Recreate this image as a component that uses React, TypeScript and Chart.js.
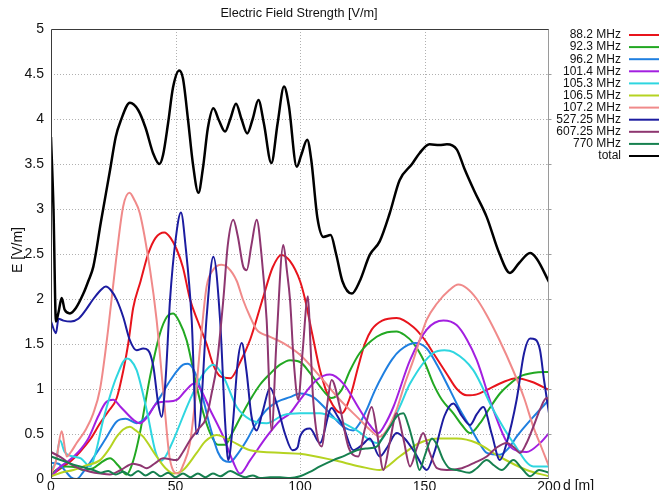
import React, { useEffect, useRef } from "react";
import { Chart, registerables } from "chart.js";

Chart.register(...registerables);

type P = [number, number];

const titleText = "Electric Field Strength [V/m]";
const yAxisLabel = "E [V/m]";
const xAxisLabel = "d [m]";

const seriesNames = [
  "88.2 MHz",
  "92.3 MHz",
  "96.2 MHz",
  "101.4 MHz",
  "105.3 MHz",
  "106.5 MHz",
  "107.2 MHz",
  "527.25 MHz",
  "607.25 MHz",
  "770 MHz",
  "total",
];

const seriesColors = [
  "#e8141c",
  "#22a822",
  "#1f7fe0",
  "#a31fe0",
  "#2ed6e0",
  "#b5d321",
  "#f08a8a",
  "#1c1ca0",
  "#8e3670",
  "#16804f",
  "#000000",
];

const f882: P[] = [[0,0.03],[2,0.08],[5,0.14],[8,0.2],[11.6,0.3],[16,0.45],[19.7,0.62],[23,0.75],[26.4,0.9],[29,1.2],[31,1.5],[33,1.9],[36,2.2],[39,2.5],[42,2.68],[45.5,2.74],[48,2.68],[50.5,2.55],[53,2.35],[55.8,2.0],[59,1.75],[62.5,1.5],[65,1.28],[68,1.14],[72,1.12],[76,1.3],[80,1.55],[85,2.0],[89,2.35],[92.5,2.49],[96,2.42],[100,2.2],[102,2.0],[105,1.6],[108,1.21],[112,0.88],[116.7,0.73],[120,0.9],[123.4,1.25],[126,1.5],[128.8,1.66],[133,1.76],[138.8,1.79],[145.5,1.69],[150,1.55],[153.5,1.4],[158.9,1.17],[163,1.0],[167,0.93],[171,0.94],[175,0.99],[181,1.07],[187,1.12],[193,1.08],[200,0.99]];

const f923: P[] = [[0,0.05],[2,0.1],[6,0.14],[10,0.13],[13,0.1],[17,0.12],[20,0.18],[23.7,0.23],[27,0.15],[30.4,0.05],[33,0.2],[35.7,0.51],[39.8,1.14],[43.8,1.62],[46.5,1.8],[49.1,1.84],[51.5,1.75],[54.5,1.54],[58.5,1.03],[61,0.75],[63.9,0.51],[67,0.38],[70,0.38],[72,0.47],[76,0.68],[80,0.88],[84,1.05],[88,1.17],[92,1.27],[96,1.32],[100,1.3],[104,1.18],[108,1.03],[112.7,0.9],[116.7,0.99],[120,1.2],[124,1.4],[130.8,1.58],[135,1.63],[138.8,1.64],[142,1.6],[145.5,1.51],[150,1.3],[153.5,1.06],[157,0.88],[161.6,0.73],[165,0.6],[168.3,0.51],[172.3,0.62],[176,0.78],[180.3,0.95],[184,1.05],[188.4,1.14],[194,1.18],[200,1.19]];

const f962: P[] = [[0,0.18],[3,0.17],[6,0.08],[8,0.02],[10.3,0.0],[13,0.08],[18.3,0.29],[22,0.45],[26.4,0.64],[30,0.67],[34.4,0.62],[38,0.68],[43.8,0.91],[48,1.1],[53.1,1.27],[55,1.28],[58.5,1.14],[61,0.9],[63.9,0.58],[67,0.3],[69.2,0.21],[71.9,0.19],[75,0.28],[78.6,0.43],[82,0.6],[86.6,0.77],[91,0.86],[96,0.91],[100,0.95],[105.3,0.91],[110.7,0.77],[117.4,0.58],[121.4,0.54],[124,0.62],[126.8,0.77],[130,0.98],[133.5,1.17],[137,1.33],[140.2,1.43],[146.2,1.51],[150.9,1.45],[155,1.27],[160.2,0.99],[164,0.78],[168.3,0.58],[172,0.4],[175,0.29],[180.3,0.27],[184,0.35],[187,0.47],[193.7,0.69],[200,0.88]];

const f1014: P[] = [[0,0.02],[3,0.12],[7,0.2],[11,0.3],[15,0.45],[19,0.7],[22,0.85],[25,0.88],[28,0.8],[33,0.66],[35.7,0.62],[39,0.7],[42.4,0.84],[46,0.86],[50.5,0.88],[54,0.98],[57.5,1.06],[60,1.0],[63.9,0.77],[69.2,0.47],[73,0.2],[75.9,0.06],[80,0.21],[86.6,0.47],[92,0.65],[96,0.73],[100,0.88],[106.7,1.1],[112,1.16],[117.4,1.06],[124,0.77],[128,0.6],[131.4,0.51],[134,0.6],[137.5,0.8],[144.2,1.32],[150.9,1.66],[157.6,1.76],[162.9,1.71],[167,1.55],[171,1.32],[177.6,0.77],[184.3,0.36],[191,0.3],[196.4,0.4],[200,0.51]];

const f1053: P[] = [[0,0.1],[2,0.2],[3.6,0.43],[5.5,0.3],[9,0.25],[12,0.23],[15.7,0.14],[18,0.3],[21,0.66],[24,0.95],[26.4,1.14],[30.4,1.34],[32,1.32],[34.4,1.21],[38.4,0.77],[42,0.3],[44,0.2],[46,0.25],[49.1,0.43],[55.8,0.88],[61.2,1.17],[65.2,1.27],[69.2,1.14],[74.6,0.8],[80,0.66],[86.6,0.62],[93.3,0.71],[100,0.73],[108,0.73],[114.7,0.66],[122.8,0.54],[130.8,0.4],[136.1,0.58],[140,0.8],[144.2,1.06],[153.5,1.4],[158,1.43],[161.6,1.41],[169.6,1.21],[177.6,0.77],[185.7,0.4],[193.7,0.14],[200,0.14]];

const f1065: P[] = [[0,0.03],[4,0.07],[9,0.1],[14,0.15],[19.7,0.21],[23,0.32],[26.4,0.47],[29,0.55],[31.7,0.58],[34,0.54],[37,0.47],[42.4,0.25],[46,0.12],[49.1,0.06],[53.1,0.1],[58.5,0.29],[62,0.42],[66.5,0.49],[71.9,0.43],[80,0.32],[93.3,0.29],[100,0.28],[113.4,0.21],[124,0.14],[132,0.1],[140,0.25],[148,0.4],[156,0.45],[163,0.45],[171,0.4],[180,0.25],[191,0.1],[200,0.03]];

const f1072: P[] = [[0,0.05],[2,0.2],[4.3,0.53],[6.3,0.25],[8,0.3],[10.3,0.4],[14,0.55],[17,0.73],[19.7,1.0],[22.9,1.65],[26.4,2.5],[29,3.03],[31.5,3.18],[33.5,3.1],[35.7,2.95],[39.8,2.32],[42.4,1.77],[45,1.0],[47.8,0.21],[51.1,0.06],[53,0.15],[55.8,0.4],[58,0.9],[60,1.5],[62.5,2.14],[65,2.32],[68.5,2.38],[71,2.35],[74.6,2.2],[77,2.0],[80,1.8],[82.6,1.66],[88,1.58],[93.3,1.51],[100,1.38],[108,1.14],[116,0.88],[124,0.66],[128,0.55],[132,0.47],[135,0.55],[138.8,0.77],[142,1.05],[145.5,1.32],[150.9,1.77],[155,1.95],[160,2.1],[163.6,2.16],[167,2.12],[171,2.0],[175,1.82],[180,1.55],[185.7,1.2],[190,0.9],[193.7,0.58],[197,0.35],[200,0.14]];

const f52725: P[] = [[0,1.75],[2,1.62],[3,1.78],[5,1.76],[8,1.75],[11,1.78],[14,1.88],[17,2.0],[20,2.1],[22,2.14],[24,2.1],[26.4,1.99],[29,1.8],[31.7,1.54],[34.4,1.43],[37,1.45],[39,1.43],[41.1,1.25],[43,0.85],[44.4,0.69],[46,1.1],[47.8,1.99],[50,2.65],[52.2,2.96],[54,2.6],[56.5,1.77],[58.5,0.5],[60,0.7],[62.5,1.8],[65.2,2.47],[67.9,1.77],[70,0.6],[71.2,0.21],[73,0.6],[75,1.3],[76.6,1.51],[78.5,1.2],[80.5,0.7],[82.6,0.54],[85,0.75],[88,1.01],[91,0.8],[94,0.5],[97,0.32],[99,0.35],[100,0.47],[104,0.56],[108,0.4],[112.7,0.79],[115,0.7],[117.4,0.58],[121.4,0.32],[125,0.38],[128,0.45],[132,0.25],[135,0.35],[138.8,0.51],[142,0.45],[146,0.3],[150.9,0.1],[154,0.3],[158,0.7],[161.6,0.84],[165,0.7],[168.3,0.6],[171,0.72],[173.6,0.8],[177,0.5],[180.3,0.21],[183,0.4],[187,0.88],[190,1.4],[192.4,1.56],[194.5,1.55],[196.4,1.43],[198,1.1],[200,0.73]];

const f60725: P[] = [[0,0.3],[4,0.24],[7.6,0.17],[11,0.12],[15.7,0.08],[20,0.06],[23.7,0.05],[28,0.1],[33,0.17],[36,0.15],[38.4,0.12],[42,0.18],[45,0.23],[50.5,0.21],[53,0.3],[55.8,0.43],[59,0.55],[62.5,0.69],[64.5,0.95],[66.5,1.25],[69.2,1.99],[71,2.6],[73.2,2.88],[75,2.7],[77.2,2.36],[78.6,2.32],[80.5,2.6],[82.6,2.88],[84.5,2.5],[86.6,1.77],[88.6,0.54],[90.5,1.5],[93.3,2.6],[94.8,2.3],[96,1.99],[97.5,1.3],[99.3,0.88],[101,1.4],[103.2,2.03],[104.2,1.5],[105.3,0.88],[108.7,0.36],[110.8,0.8],[112.7,1.1],[116,0.8],[119.4,0.36],[123.4,0.25],[126,0.55],[128.8,0.8],[131,0.5],[133.5,0.1],[136,0.4],[138.8,0.73],[141.5,0.45],[144.2,0.14],[147,0.35],[149.5,0.51],[152,0.3],[155,0.12],[158.9,0.1],[165,0.12],[170,0.18],[175,0.25],[179,0.35],[183,0.4],[186,0.35],[188.4,0.29],[191,0.4],[193.7,0.58],[196.5,0.78],[199,0.9],[200,0.88]];

const f770: P[] = [[0,0.25],[3,0.22],[6,0.19],[9,0.16],[13,0.13],[17,0.1],[20,0.07],[23,0.09],[26,0.05],[29,0.08],[32,0.04],[35,0.09],[38,0.04],[41,0.08],[44,0.03],[47,0.07],[50,0.02],[53,0.06],[56,0.02],[59,0.06],[62,0.02],[65,0.06],[68,0.03],[72,0.09],[75,0.05],[78,0.02],[81,0.04],[84,0.01],[88,0.02],[92,0.02],[96,0.01],[100,0.03],[104,0.08],[108,0.14],[113.4,0.21],[118,0.26],[122.8,0.32],[127,0.34],[130.8,0.36],[133,0.45],[136.1,0.58],[139,0.7],[141.5,0.73],[143.5,0.6],[145.5,0.4],[148,0.1],[150,0.25],[153,0.45],[155,0.38],[157.6,0.21],[160,0.12],[163,0.1],[168,0.07],[171,0.12],[175,0.21],[178,0.15],[181,0.1],[185.7,0.21],[189,0.12],[192.4,0.03],[196,0.1],[200,0.07]];

const fTotal: P[] = [[0,3.8],[1,3.0],[2,1.75],[3,1.85],[4.3,2.01],[5.5,1.88],[7.6,1.84],[10,1.9],[13,2.06],[15,2.2],[17,2.36],[20,2.85],[23.7,3.43],[26,3.8],[28,3.98],[31.7,4.18],[35,4.1],[38,3.9],[41,3.62],[43.5,3.5],[45,3.6],[47,3.95],[49,4.35],[51.5,4.54],[53,4.45],[55,4.0],[57,3.5],[59.2,3.18],[61,3.45],[63,3.9],[65.2,4.12],[67.5,3.98],[69.9,3.86],[72,4.0],[74.3,4.17],[76.5,4.0],[78.8,3.84],[81,4.0],[83.3,4.21],[85.5,3.95],[88.5,3.51],[91,3.95],[93.6,4.36],[95.5,4.15],[98.7,3.47],[100.5,3.6],[102.9,3.77],[104.5,3.55],[107,2.9],[109.4,2.69],[112.3,2.71],[114.5,2.5],[117,2.2],[120.8,2.06],[124,2.2],[128,2.49],[132,2.64],[136,2.95],[140,3.32],[145,3.5],[148,3.62],[152,3.72],[156,3.71],[159,3.72],[163,3.66],[166,3.45],[170,3.2],[175,2.91],[180,2.51],[184.3,2.29],[188,2.4],[192.4,2.51],[195,2.45],[200,2.19]];

const seriesData: P[][] = [f882, f923, f962, f1014, f1053, f1065, f1072, f52725, f60725, f770, fTotal];

const xTickValues = [0, 50, 100, 150, 200];
const yTickValues = [0, 0.5, 1, 1.5, 2, 2.5, 3, 3.5, 4, 4.5, 5];

const FONT = '"Liberation Sans", Arial, Helvetica, sans-serif';

const decorPlugin = {
  id: "decor",
  beforeDatasetsDraw(chart: any) {
    const { ctx, chartArea, scales } = chart;
    const { left, right, top, bottom } = chartArea;
    ctx.save();
    ctx.strokeStyle = "#b0b0b0";
    ctx.lineWidth = 1;
    ctx.setLineDash([1, 2]);
    for (const v of yTickValues) {
      if (v <= 0 || v >= 5) continue;
      const py = Math.round(scales.y.getPixelForValue(v)) + 0.5;
      ctx.beginPath();
      ctx.moveTo(left, py);
      ctx.lineTo(right, py);
      ctx.stroke();
    }
    for (const v of xTickValues) {
      if (v <= 0 || v >= 200) continue;
      const px = Math.round(scales.x.getPixelForValue(v)) + 0.5;
      ctx.beginPath();
      ctx.moveTo(px, top);
      ctx.lineTo(px, bottom);
      ctx.stroke();
    }
    ctx.restore();
  },
  afterDatasetsDraw(chart: any) {
    const { ctx, chartArea, scales } = chart;
    const { left, right, top, bottom } = chartArea;
    ctx.save();
    ctx.setLineDash([]);
    ctx.lineWidth = 1;
    ctx.strokeStyle = "#9a9a9a";
    const rx = Math.round(right) - 0.5;
    ctx.beginPath();
    ctx.moveTo(rx, top);
    ctx.lineTo(rx, bottom);
    ctx.stroke();
    for (const v of yTickValues) {
      if (v <= 0 || v >= 5) continue;
      const py = Math.round(scales.y.getPixelForValue(v)) + 0.5;
      ctx.beginPath();
      ctx.moveTo(rx - 1, py);
      ctx.lineTo(rx + 3, py);
      ctx.stroke();
    }
    ctx.strokeStyle = "#3a3a3a";
    const lx = Math.round(left) + 0.5;
    const ty = Math.round(top) + 0.5;
    const by = Math.round(bottom) - 0.5;
    ctx.beginPath();
    ctx.moveTo(lx, ty);
    ctx.lineTo(rx, ty);
    ctx.moveTo(lx, ty);
    ctx.lineTo(lx, by);
    ctx.lineTo(rx, by);
    ctx.stroke();
    ctx.restore();
  },
  afterDraw(chart: any) {
    const { ctx, chartArea } = chart;
    const { left, right, bottom } = chartArea;
    ctx.save();
    ctx.fillStyle = "#111";
    ctx.font = `12.7px ${FONT}`;
    ctx.textAlign = "center";
    ctx.textBaseline = "middle";
    ctx.fillText(titleText, (left + right) / 2 - 1, 13.5);

    ctx.font = `14px ${FONT}`;
    ctx.save();
    ctx.translate(18, 250);
    ctx.rotate(-Math.PI / 2);
    ctx.fillText(yAxisLabel, 0, 0);
    ctx.restore();

    ctx.textAlign = "left";
    ctx.textBaseline = "top";
    ctx.fillText(xAxisLabel, 563, bottom + 0);

    ctx.font = `12px ${FONT}`;
    ctx.textBaseline = "middle";
    for (let i = 0; i < seriesNames.length; i++) {
      const y = 35 + i * 12.1;
      ctx.textAlign = "right";
      ctx.fillStyle = "#111";
      ctx.fillText(seriesNames[i], 621, y);
      ctx.strokeStyle = seriesColors[i];
      ctx.lineWidth = 2;
      ctx.beginPath();
      ctx.moveTo(629, y);
      ctx.lineTo(659, y);
      ctx.stroke();
    }
    ctx.restore();
  },
};

export default function App() {
  const canvasRef = useRef<HTMLCanvasElement | null>(null);

  useEffect(() => {
    const canvas = canvasRef.current;
    if (!canvas) return;
    const datasets = seriesData.map((pts, i) => ({
      label: seriesNames[i],
      data: pts.map(([x, y]) => ({ x, y })),
      borderColor: seriesColors[i],
      backgroundColor: seriesColors[i],
      borderWidth: i === seriesData.length - 1 ? 2.5 : 2,
      pointRadius: 0,
      pointHoverRadius: 0,
      cubicInterpolationMode: "monotone" as const,
      fill: false,
      order: seriesData.length - 1 - i,
    }));
    const chart = new Chart(canvas, {
      type: "line",
      data: { datasets },
      options: {
        animation: false,
        responsive: false,
        devicePixelRatio: 1,
        events: [],
        layout: { padding: { left: 0, right: 110, top: 29, bottom: 0 } },
        plugins: {
          legend: { display: false },
          title: { display: false },
          tooltip: { enabled: false },
        },
        scales: {
          x: {
            type: "linear",
            min: 0,
            max: 200,
            grid: { display: false, drawTicks: false, tickLength: 0 },
            border: { display: false },
            afterFit: (s: any) => {
              s.height = 11;
              s.paddingLeft = 0;
              s.paddingRight = 0;
            },
            afterBuildTicks: (s: any) => {
              s.ticks = xTickValues.map((v) => ({ value: v }));
            },
            ticks: {
              padding: 0,
              color: "#111",
              font: { family: FONT, size: 14 },
              maxRotation: 0,
              autoSkip: false,
              callback: (v: any) => String(v),
            },
          },
          y: {
            type: "linear",
            min: 0,
            max: 5,
            grid: { display: false, drawTicks: false, tickLength: 0 },
            border: { display: false },
            afterFit: (s: any) => {
              s.width = 51;
              s.paddingTop = 0;
              s.paddingBottom = 0;
            },
            afterBuildTicks: (s: any) => {
              s.ticks = yTickValues.map((v) => ({ value: v }));
            },
            ticks: {
              padding: 7,
              color: "#111",
              font: { family: FONT, size: 14 },
              autoSkip: false,
              callback: (v: any) => String(Math.round(Number(v) * 10) / 10),
            },
          },
        },
      },
      plugins: [decorPlugin],
    });
    return () => chart.destroy();
  }, []);

  return (
    <div style={{ position: "absolute", left: 0, top: 0, width: 659, height: 490, background: "#fff" }}>
      <canvas ref={canvasRef} width={659} height={490} style={{ display: "block", width: 659, height: 490 }} />
    </div>
  );
}
